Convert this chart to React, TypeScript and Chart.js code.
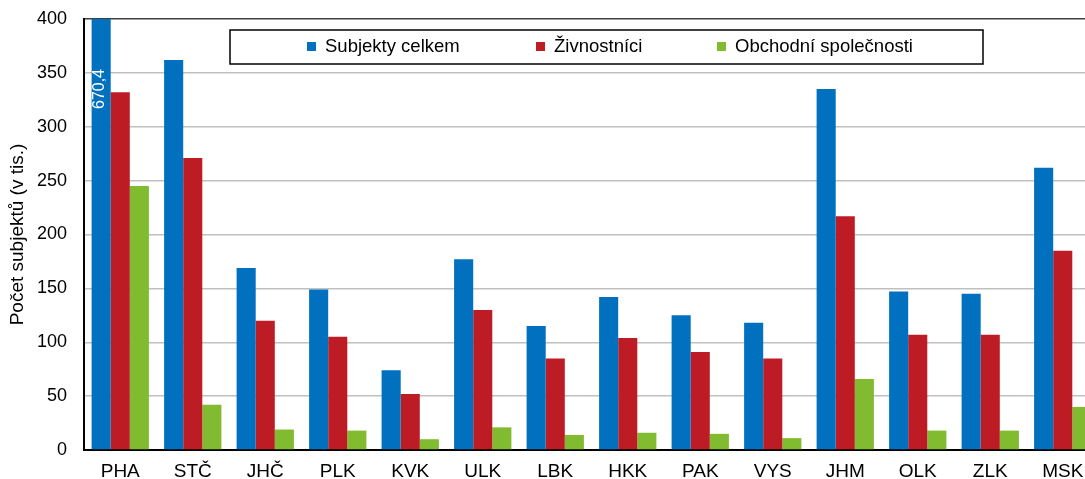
import React, { useEffect, useRef } from "react";
import { Chart, registerables } from "chart.js";

Chart.register(...registerables);

const categories = ["PHA", "STČ", "JHČ", "PLK", "KVK", "ULK", "LBK", "HKK", "PAK", "VYS", "JHM", "OLK", "ZLK", "MSK"];
const subjektyCelkem = [670.4, 362, 169, 149, 74, 177, 115, 142, 125, 118, 335, 147, 145, 262];
const zivnostnici = [332, 271, 120, 105, 52, 130, 85, 104, 91, 85, 217, 107, 107, 185];
const obchodniSpolecnosti = [245, 42, 19, 18, 10, 21, 14, 16, 15, 11, 66, 18, 18, 40];
const seriesNames = ["Subjekty celkem", "Živnostníci", "Obchodní společnosti"];
const colors = ["#0070BF", "#BE1C25", "#80BB30"];
const yMax = 400;
const yStep = 50;

const FONT = "'Liberation Sans', Arial, sans-serif";

const overlayPlugin = {
  id: "overlay",
  afterDatasetsDraw(chart: any) {
    const ctx = chart.ctx;
    const meta = chart.getDatasetMeta(0);
    subjektyCelkem.forEach((v, i) => {
      if (v > yMax) {
        const bar = meta.data[i];
        ctx.save();
        ctx.translate(bar.x - 2, chart.chartArea.top + 70);
        ctx.rotate(-Math.PI / 2);
        ctx.fillStyle = "#ffffff";
        ctx.font = `16px ${FONT}`;
        ctx.textAlign = "center";
        ctx.textBaseline = "middle";
        ctx.fillText(String(v).replace(".", ","), 0, 0);
        ctx.restore();
      }
    });
  },
  afterDraw(chart: any) {
    const ctx = chart.ctx;
    ctx.save();
    const bx = 230, by = 30, bw = 753, bh = 34;
    ctx.fillStyle = "#ffffff";
    ctx.fillRect(bx, by, bw, bh);
    ctx.strokeStyle = "#000000";
    ctx.lineWidth = 1.5;
    ctx.strokeRect(bx, by, bw, bh);
    const itemX = [307, 536, 717];
    ctx.font = `18.5px ${FONT}`;
    ctx.textBaseline = "middle";
    ctx.textAlign = "left";
    seriesNames.forEach((n, i) => {
      ctx.fillStyle = colors[i];
      ctx.fillRect(itemX[i], 42, 9, 9);
      ctx.fillStyle = "#000000";
      ctx.fillText(n, itemX[i] + 18, 47);
    });
    ctx.restore();
  },
};

export default function App() {
  const ref = useRef<HTMLCanvasElement>(null);
  useEffect(() => {
    if (!ref.current) return;
    const chart = new Chart(ref.current, {
      type: "bar",
      data: {
        labels: categories,
        datasets: [subjektyCelkem, zivnostnici, obchodniSpolecnosti].map((d, i) => ({
          label: seriesNames[i],
          data: d,
          backgroundColor: colors[i],
          borderWidth: 0,
          categoryPercentage: 0.79,
          barPercentage: 1,
        })),
      },
      options: {
        responsive: false,
        animation: false,
        devicePixelRatio: 1,
        layout: { padding: { top: 19, left: 0, right: 0, bottom: 0 } },
        plugins: {
          legend: { display: false },
          tooltip: { enabled: false },
        },
        scales: {
          x: {
            grid: { display: false, drawTicks: false },
            border: { display: true, color: "#000000", width: 2 },
            ticks: { color: "#000000", font: { family: FONT, size: 19 }, padding: 10, maxRotation: 0, autoSkip: false },
            afterFit(scale: any) {
              scale.height = 29;
              scale.paddingLeft = 0;
              scale.paddingRight = 0;
            },
          },
          y: {
            min: 0,
            max: yMax,
            grid: {
              drawTicks: false,
              color: (c: any) => (c.tick && c.tick.value === yMax ? "#404040" : "#C0C0C0"),
              lineWidth: 1.5,
            },
            border: { display: true, color: "#000000", width: 2 },
            ticks: { stepSize: yStep, color: "#000000", font: { family: FONT, size: 18 }, padding: 17 },
            title: {
              display: true,
              text: "Počet subjektů (v tis.)",
              color: "#000000",
              font: { family: FONT, size: 19 },
              padding: { top: 6, bottom: 0 },
            },
            afterFit(scale: any) {
              scale.width = 84;
              scale.paddingTop = 0;
              scale.paddingBottom = 0;
            },
          },
        },
      },
      plugins: [overlayPlugin],
    } as any);
    return () => chart.destroy();
  }, []);
  return (
    <div style={{ position: "absolute", left: 0, top: 0, width: 1085, height: 479, overflow: "hidden", background: "#fff" }}>
      <canvas ref={ref} width={1099} height={479} style={{ display: "block" }} />
    </div>
  );
}
